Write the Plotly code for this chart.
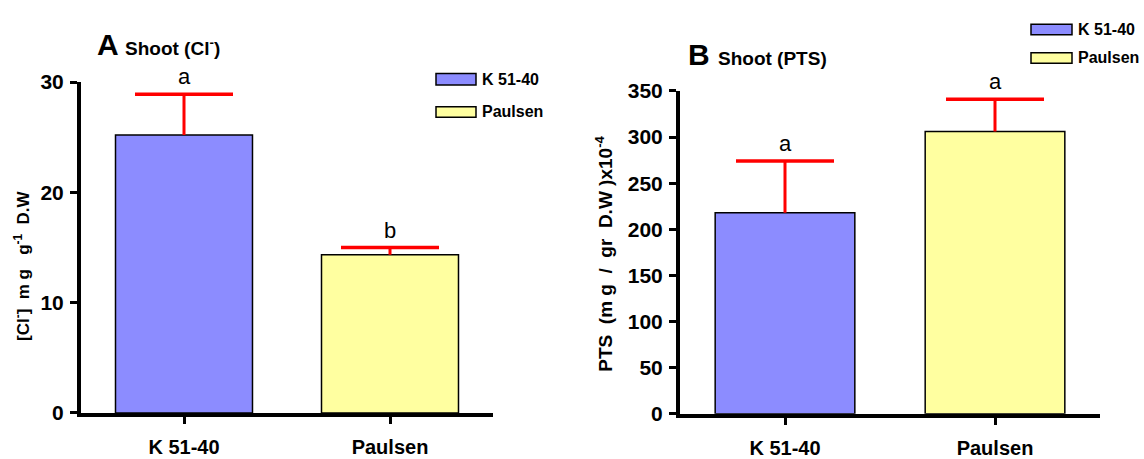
import plotly.graph_objects as go

# ---- data ----
genotypes = ["K 51-40", "Paulsen"]
cl_values = [25.2, 14.35]
cl_err = [3.7, 0.65]
cl_letters = ["a", "b"]
pts_values = [218.0, 306.0]
pts_err = [56.0, 35.0]
pts_letters = ["a", "a"]
colors = ["#8C8CFF", "#FFFFA0"]

W, H = 1144, 459
SANS = "Liberation Sans, Arial"

def px(x):
    return x / W

def py(y):
    return 1 - y / H

fig = go.Figure()

panels = [
    ("x", "y", cl_values, cl_err, cl_letters),
    ("x2", "y2", pts_values, pts_err, pts_letters),
]
for xa, ya, vals, errs, letters in panels:
    for i, g in enumerate(genotypes):
        fig.add_trace(go.Bar(
            x=[g], y=[vals[i]], width=0.665,
            name=g, showlegend=False,
            xaxis=xa, yaxis=ya,
            marker=dict(color=colors[i], line=dict(color="black", width=1.5)),
            error_y=dict(type="data", array=[errs[i]], arrayminus=[0],
                         symmetric=False, color="#FF0000", thickness=3, width=0),
        ))
        # error-bar cap
        fig.add_trace(go.Scatter(
            x=[g], y=[vals[i] + errs[i]], mode="markers", showlegend=False,
            xaxis=xa, yaxis=ya, hoverinfo="skip",
            marker=dict(symbol="line-ew", size=70, color="#FF0000",
                        line=dict(color="#FF0000", width=3.5)),
        ))
        fig.add_annotation(
            x=g, y=vals[i] + errs[i], xref=xa, yref=ya,
            text=letters[i], showarrow=False, yanchor="bottom", yshift=3,
            font=dict(family=SANS, size=22, color="black"),
        )

axis_common = dict(
    showline=True, linecolor="black", linewidth=4,
    ticks="outside", tickcolor="black", tickwidth=3, ticklen=7,
    showgrid=False, zeroline=False,
)
ytickfont = dict(family=SANS, size=21, color="black", weight="bold")
xtickfont = dict(family=SANS, size=20, color="black", weight="bold")

fig.update_layout(
    width=W, height=H,
    margin=dict(l=0, r=0, t=0, b=0),
    paper_bgcolor="white", plot_bgcolor="white",
    barmode="overlay",
    xaxis=dict(domain=[px(81), px(493)], range=[-0.5, 1.5], type="category",
               anchor="y", tickfont=xtickfont, ticklabelstandoff=6, **axis_common),
    yaxis=dict(domain=[py(423), py(74)], range=[0, 30], tickvals=[0, 10, 20, 30],
               anchor="x", tickfont=ytickfont, ticklabelstandoff=2, **axis_common),
    xaxis2=dict(domain=[px(680), px(1100)], range=[-0.5, 1.5], type="category",
                anchor="y2", tickfont=xtickfont, ticklabelstandoff=6, **axis_common),
    yaxis2=dict(domain=[py(424), py(83.3)], range=[0, 350],
                tickvals=[0, 50, 100, 150, 200, 250, 300, 350],
                anchor="x2", tickfont=ytickfont, ticklabelstandoff=2, **axis_common),
)

# panel titles
fig.add_annotation(x=px(95), y=py(48), xref="paper", yref="paper", xanchor="left",
                   yanchor="bottom", yshift=-6, showarrow=False,
                   text="<b>A</b>", font=dict(family=SANS, size=30, color="black"))
fig.add_annotation(x=px(123), y=py(48), xref="paper", yref="paper", xanchor="left",
                   yanchor="bottom", yshift=-4, showarrow=False,
                   text="<b>Shoot (Cl<sup>-</sup>)</b>", font=dict(family=SANS, size=19, color="black"))
fig.add_annotation(x=px(686), y=py(58), xref="paper", yref="paper", xanchor="left",
                   yanchor="bottom", yshift=-6, showarrow=False,
                   text="<b>B</b>", font=dict(family=SANS, size=30, color="black"))
fig.add_annotation(x=px(716), y=py(58), xref="paper", yref="paper", xanchor="left",
                   yanchor="bottom", yshift=-4, showarrow=False,
                   text="<b>Shoot (PTS)</b>", font=dict(family=SANS, size=19, color="black"))

# y-axis titles
fig.add_annotation(x=px(22), y=py(268), xref="paper", yref="paper", textangle=-90,
                   xanchor="center", yanchor="middle", showarrow=False,
                   text="<b>[Cl<sup>-</sup>]  m g   g<sup>-1</sup>  D.W</b>",
                   font=dict(family=SANS, size=17, color="black"))
fig.add_annotation(x=px(604), y=py(255), xref="paper", yref="paper", textangle=-90,
                   xanchor="center", yanchor="middle", showarrow=False,
                   text="<b>PTS  (m g  /  gr  D.W )x10<sup>-4</sup></b>",
                   font=dict(family=SANS, size=19, color="black"))

# legends
legends = [
    (436, 476, [(65, 77), (100, 111)], 16),
    (1031, 1072, [(13, 24), (43, 54)], 16),
]
for x0, x1, rows, fs in legends:
    for (y0, y1), g, c in zip(rows, genotypes, colors):
        fig.add_shape(type="rect", xref="paper", yref="paper",
                      x0=px(x0), x1=px(x1), y0=py(y1), y1=py(y0),
                      fillcolor=c, line=dict(color="black", width=1.5))
        fig.add_annotation(x=px(x1 + 4), y=py((y0 + y1) / 2), xref="paper", yref="paper",
                           xanchor="left", yanchor="middle", showarrow=False,
                           text="<b>" + g + "</b>",
                           font=dict(family=SANS, size=fs, color="black"))

fig.write_html("out.html")
